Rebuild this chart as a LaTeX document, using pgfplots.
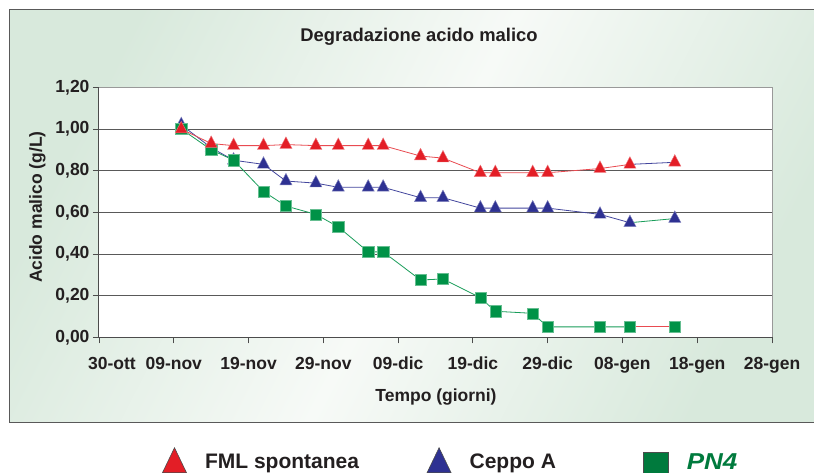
\documentclass[border=0pt]{standalone}
\usepackage{pgfplots}
\usepackage{pgfplotstable}
\pgfplotsset{compat=1.18}
\usepackage{fontspec}
\setmainfont{Liberation Sans}
\definecolor{txt}{HTML}{231F20}
\definecolor{fmlred}{HTML}{E31E26}
\definecolor{cepblue}{HTML}{2E3192}
\definecolor{pngreen}{HTML}{009247}
\definecolor{pngreenD}{HTML}{007A3D}
\definecolor{bgg}{HTML}{D8E9DC}
\definecolor{bgw}{HTML}{F7FAF7}
\pgfdeclarehorizontalshading{bgshade}{100bp}{color(0bp)=(bgg); color(25bp)=(bgg); color(50bp)=(bgw); color(75bp)=(bgg); color(100bp)=(bgg)}

\pgfplotstableread{
day v
11 1.00
15 0.93
18 0.92
22 0.92
25 0.925
29 0.92
32 0.92
36 0.92
38 0.92
43 0.87
46 0.86
51 0.79
53 0.79
58 0.79
60 0.79
67 0.81
71 0.83
77 0.84
}\fml
\pgfplotstableread{
day v
11 1.02
15 0.91
18 0.85
22 0.83
25 0.75
29 0.74
32 0.72
36 0.72
38 0.72
43 0.67
46 0.67
51 0.62
53 0.62
58 0.62
60 0.62
67 0.59
71 0.55
77 0.57
}\ceppo
\pgfplotstableread{
day v
11 1.00
15 0.90
18 0.85
22 0.70
25 0.63
29 0.59
32 0.53
36 0.41
38 0.41
43 0.275
46 0.28
51 0.19
53 0.125
58 0.115
60 0.05
67 0.05
71 0.05
77 0.05
}\pnq

\begin{document}
\begin{tikzpicture}
\path[use as bounding box] (-99pt,-135.7pt) rectangle (715pt,337.3pt);
\shade[shading=bgshade, shading angle=-27] (-89.7pt,-85.4pt) rectangle (720pt,328pt);
\draw[black!65, line width=1.2pt] (720pt,328pt) -- (-89.7pt,328pt) -- (-89.7pt,-85.4pt) -- (720pt,-85.4pt);
\node[anchor=base, font=\fontsize{18.4}{22}\selectfont\bfseries, text=txt] at (320pt,295.6pt) {Degradazione acido malico};
\begin{axis}[
  at={(0pt,0pt)}, anchor=south west,
  scale only axis, width=673pt, height=250pt,
  xmin=0, xmax=90, ymin=0, ymax=1.2,
  xtick={0,10,...,90},
  xticklabels={\hspace*{26pt}30-ott,09-nov,19-nov,29-nov,09-dic,19-dic,29-dic,08-gen,18-gen,28-gen},
  xticklabel style={yshift=-10pt},
  ytick={0,0.2,0.4,0.6,0.8,1.0,1.2},
  yticklabel style={/pgf/number format/.cd, fixed, fixed zerofill, precision=2, use comma},
  /pgf/number format/assume math mode=true,
  axis background/.style={fill=white},
  ymajorgrids, major grid style={black!65, line width=0.9pt},
  axis x line*=bottom, axis y line*=left,
  axis line style={black!70, line width=1pt},
  tick align=outside, major tick length=6pt,
  tick style={black!70, line width=0.8pt},
  tick label style={font=\fontsize{17.5}{20}\selectfont\bfseries, text=txt},
  label style={font=\fontsize{17.5}{20}\selectfont\bfseries, text=txt},
  xlabel={Tempo (giorni)},
  ylabel={Acido malico (g/L)},
  xlabel style={at={(axis description cs:0.5007,0)}, anchor=base, yshift=-64.7pt},
  ylabel style={at={(axis description cs:-0.0847,0.5206)}, anchor=base},
  clip=false,
  legend columns=3,
  legend style={at={(axis description cs:0.094,-0.441)}, anchor=north west, draw=none, fill=none, inner sep=0pt,
    font=\fontsize{21}{25}\selectfont\bfseries, text=txt,
    nodes={inner sep=0pt},
    /tikz/every odd column/.append style={column sep=18.5pt},
    /tikz/every even column/.append style={column sep=0pt}},
  legend cell align=left,
]
\draw[black!40, line width=0.8pt] (rel axis cs:0,1) -- (rel axis cs:1,1) -- (rel axis cs:1,0);
% lines
\addplot[cepblue!90!white, line width=0.8pt, restrict x to domain=0:71, forget plot] table[x=day,y=v] {\ceppo};
\addplot[pngreen!90!white, line width=0.8pt, restrict x to domain=71:80, forget plot] table[x=day,y=v] {\ceppo};
\addplot[pngreen!90!white, line width=0.8pt, restrict x to domain=0:71, forget plot] table[x=day,y=v] {\pnq};
\addplot[fmlred!80!white, line width=0.8pt, restrict x to domain=71:80, forget plot] table[x=day,y=v] {\pnq};
\addplot[fmlred!80!white, line width=0.8pt, restrict x to domain=0:71, forget plot] table[x=day,y=v] {\fml};
\addplot[cepblue!90!white, line width=0.8pt, restrict x to domain=71:80, forget plot] table[x=day,y=v] {\fml};
% markers
\addplot[only marks, mark=triangle*, mark size=7pt, mark options={yscale=1.1, fill=cepblue, draw=cepblue!60!white, line width=0.4pt}, forget plot] table[x=day,y=v] {\ceppo};
\addplot[only marks, mark=square*, mark size=5.6pt, mark options={fill=pngreen, draw=pngreen!60!white, line width=0.4pt}, forget plot] table[x=day,y=v] {\pnq};
\addplot[only marks, mark=triangle*, mark size=7pt, mark options={yscale=1.1, fill=fmlred, draw=fmlred!60!white, line width=0.4pt}, forget plot] table[x=day,y=v] {\fml};
% legend
\addlegendimage{only marks, mark=triangle*, mark size=13.9pt, mark options={yscale=1.2, fill=fmlred, draw=black!70, line width=0.6pt}}
\addlegendentry{\raisebox{5.5pt}{\makebox[222pt][l]{FML spontanea}}}
\addlegendimage{only marks, mark=triangle*, mark size=13.9pt, mark options={yscale=1.2, fill=cepblue, draw=black!70, line width=0.6pt}}
\addlegendentry{\raisebox{5.5pt}{\makebox[173.7pt][l]{Ceppo A}}}
\addlegendimage{only marks, mark=square*, mark size=12.5pt, mark options={fill=pngreenD, draw=black!70, line width=0.6pt}}
\addlegendentry{\raisebox{4.5pt}{\textcolor{pngreenD}{\scalebox{1.13}[1]{\fontsize{23}{26}\selectfont\bfseries\itshape PN4}}}}
\end{axis}
\end{tikzpicture}
\end{document}
